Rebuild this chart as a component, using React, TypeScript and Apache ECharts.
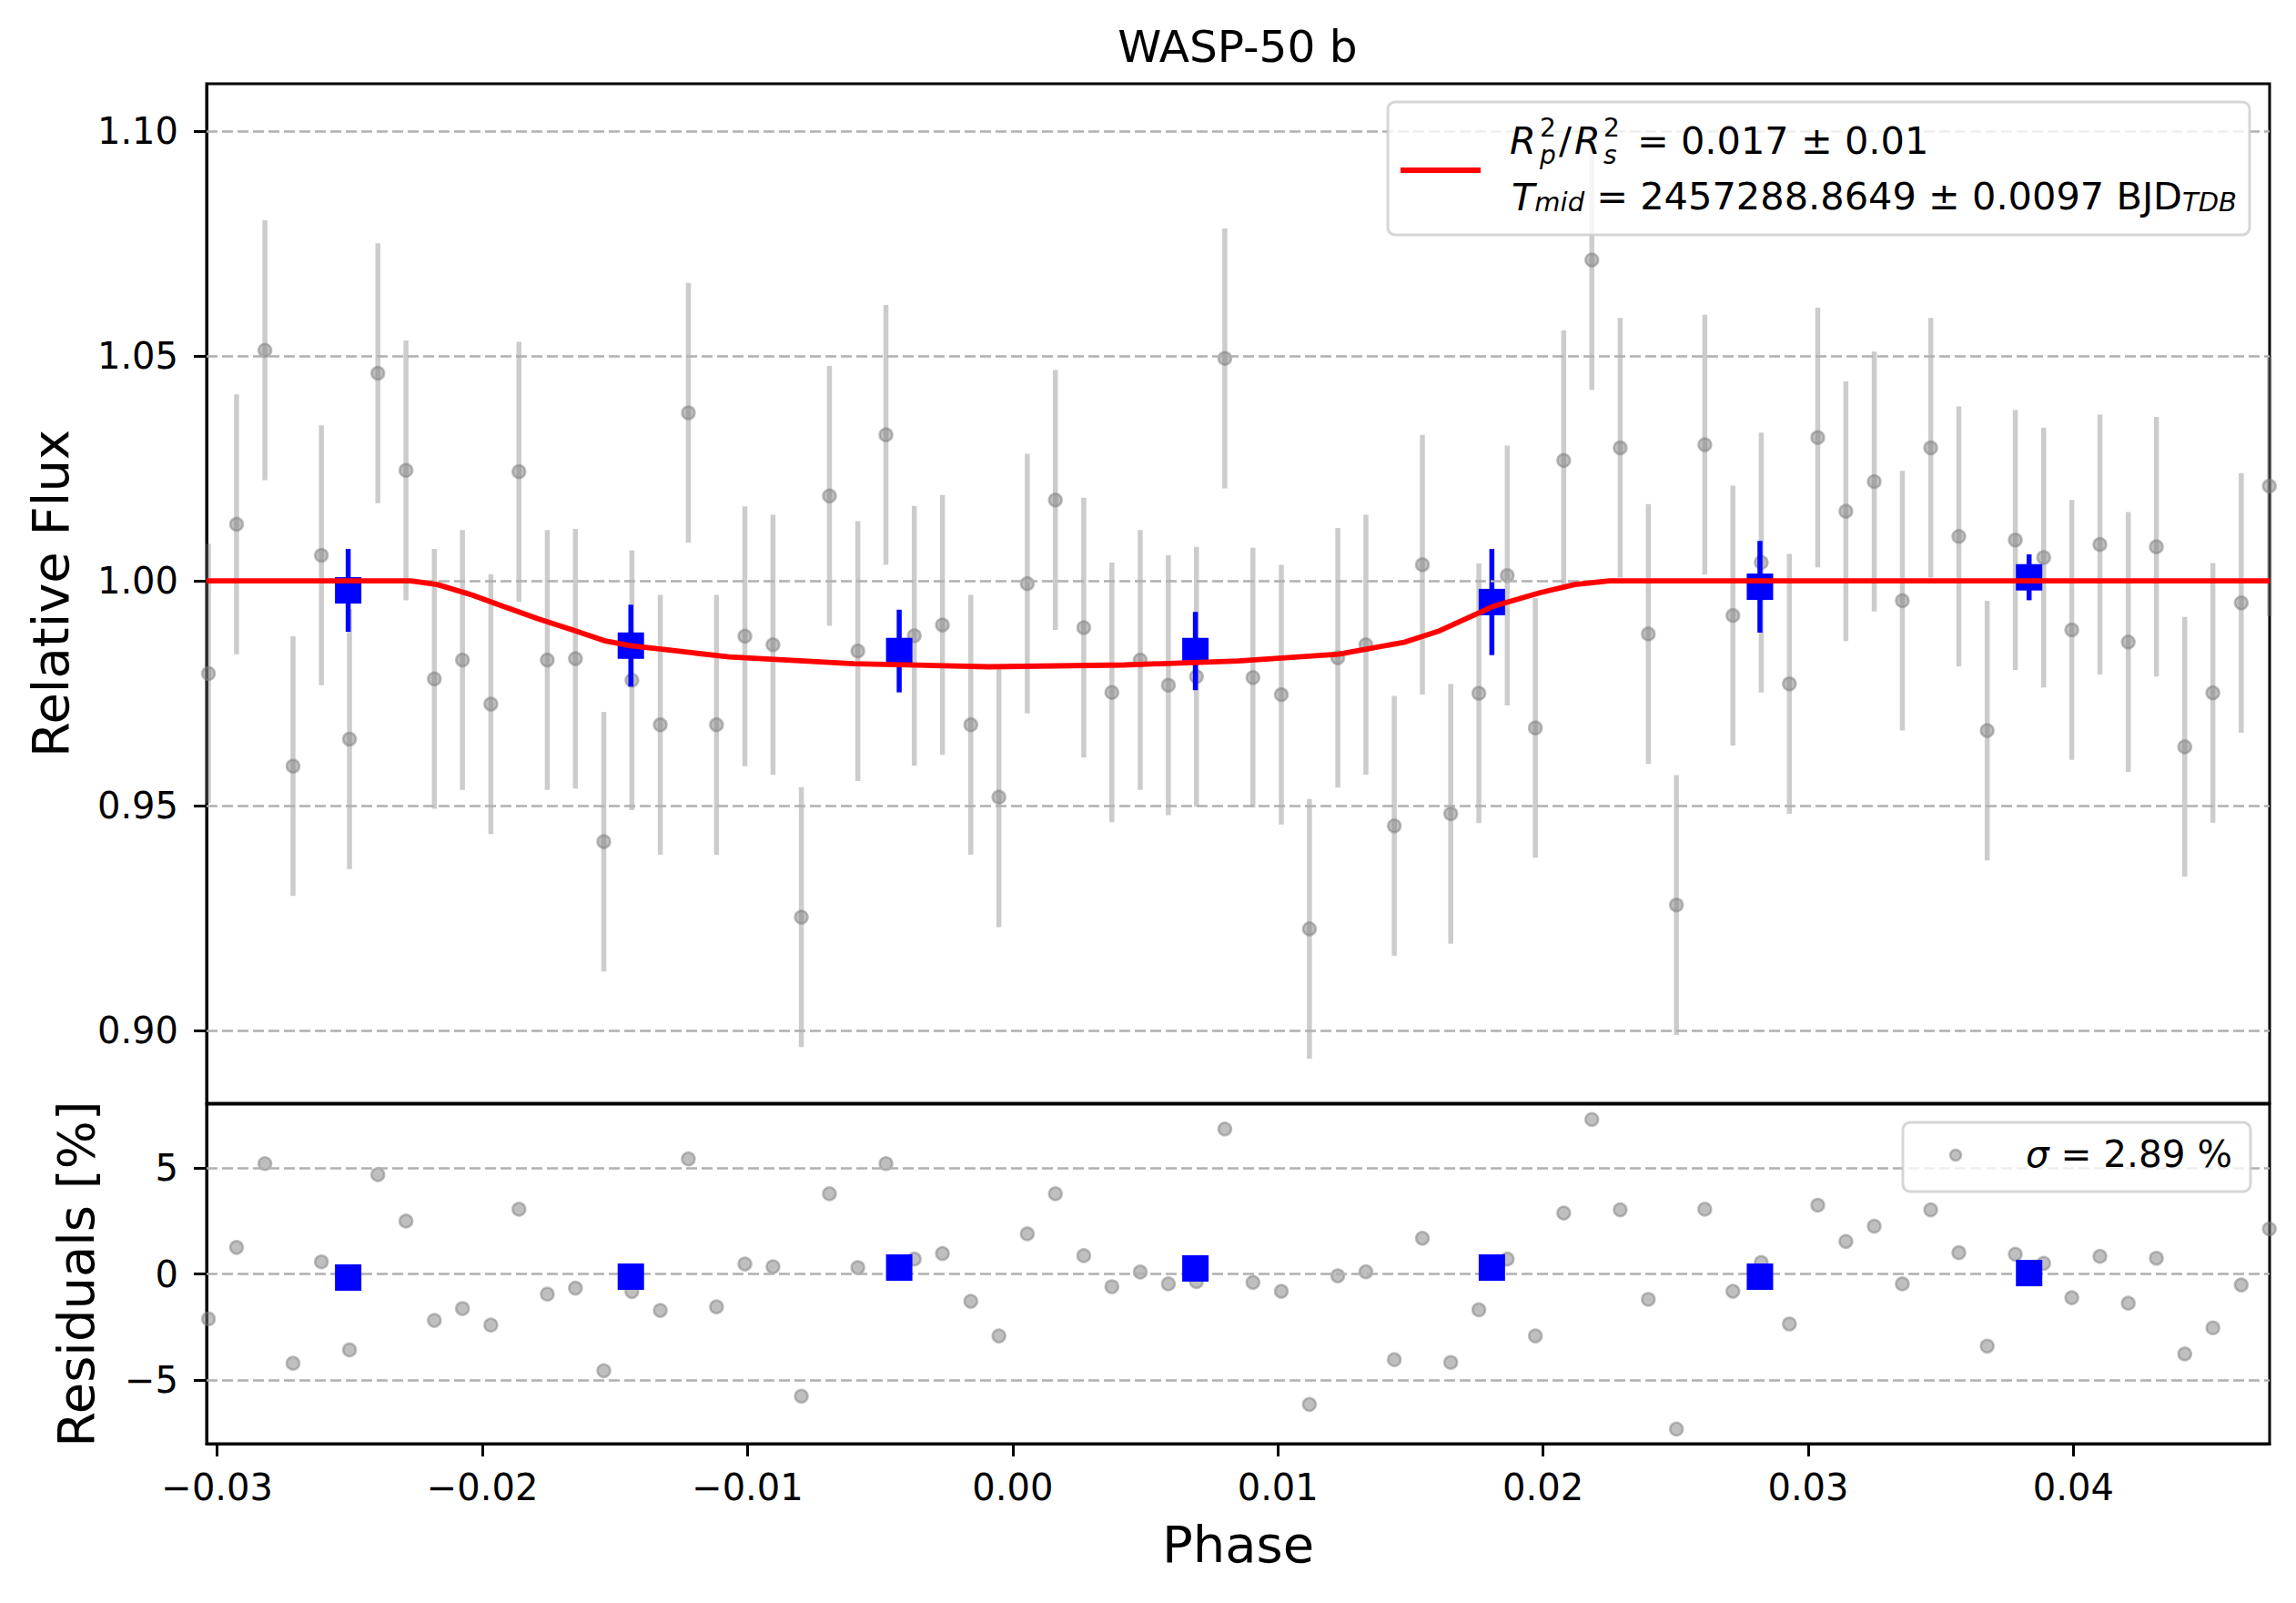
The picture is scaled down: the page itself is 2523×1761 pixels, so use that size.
import { useEffect, useRef } from "react";
import * as echarts from "echarts";

const FONT = "DejaVu Sans";

// unbinned light curve (phase, relative flux, residual in %)
const PHASE = [
  -0.03033, -0.02927, -0.0282, -0.02714, -0.02607, -0.02501, -0.02394, -0.02288,
  -0.02181, -0.02075, -0.01968, -0.01862, -0.01755, -0.01649, -0.01542, -0.01436,
  -0.01329, -0.01223, -0.01117, -0.0101, -0.00904, -0.00797, -0.00691, -0.00584,
  -0.00478, -0.00371, -0.00265, -0.00158, -0.00052, 0.00055, 0.00161, 0.00268,
  0.00374, 0.00481, 0.00587, 0.00693, 0.008, 0.00906, 0.01013, 0.01119,
  0.01226, 0.01332, 0.01439, 0.01545, 0.01652, 0.01758, 0.01865, 0.01971,
  0.02078, 0.02184, 0.02291, 0.02397, 0.02503, 0.0261, 0.02716, 0.02823,
  0.02929, 0.03036, 0.03142, 0.03249, 0.03355, 0.03462, 0.03568, 0.03675,
  0.03781, 0.03888, 0.03994, 0.041, 0.04207, 0.04313, 0.0442, 0.04526,
  0.04633, 0.04739,
];
const FLUX = [
  0.9794, 1.0126, 1.0513, 0.9588, 1.0057, 0.9648, 1.0462, 1.0246,
  0.9782, 0.9824, 0.9726, 1.0243, 0.9824, 0.9827, 0.942, 0.9779,
  0.968, 1.0374, 0.968, 0.9877, 0.9858, 0.9252, 1.0189, 0.9844,
  1.0325, 0.9878, 0.9902, 0.968, 0.9519, 0.9994, 1.018, 0.9896,
  0.9752, 0.9824, 0.9768, 0.9787, 1.0495, 0.9785, 0.9747, 0.9226,
  0.9829, 0.9858, 0.9455, 1.0036, 0.9482, 0.975, 1.0012, 0.9673,
  1.0268, 1.0714, 1.0296, 0.9882, 0.9279, 1.0303, 0.9923, 1.0041,
  0.9771, 1.0319, 1.0155, 1.0221, 0.9956, 1.0296, 1.0099, 0.9667,
  1.0091, 1.0052, 0.9891, 1.0081, 0.9864, 1.0076, 0.9631, 0.9751,
  0.9951, 1.0211,
];
const FLUX_ERR = 0.0289;
const RESIDUAL = [
  -2.12, 1.25, 5.2, -4.21, 0.57, -3.58, 4.68, 2.49,
  -2.19, -1.63, -2.41, 3.05, -0.95, -0.67, -4.56, -0.83,
  -1.72, 5.42, -1.55, 0.47, 0.34, -5.76, 3.78, 0.3,
  5.2, 0.7, 0.96, -1.29, -2.92, 1.89, 3.78, 0.86,
  -0.6, 0.09, -0.47, -0.36, 6.83, -0.4, -0.82, -6.15,
  -0.09, 0.1, -4.04, 1.68, -4.17, -1.69, 0.7, -2.92,
  2.87, 7.28, 3.02, -1.2, -7.31, 3.05, -0.82, 0.54,
  -2.36, 3.24, 1.53, 2.25, -0.47, 3.02, 1.0, -3.4,
  0.93, 0.5, -1.12, 0.83, -1.38, 0.74, -3.77, -2.54,
  -0.52, 2.12,
];

// binned points
const BIN_PHASE = [-0.02506, -0.0144, -0.00428, 0.00689, 0.01807, 0.02818, 0.03833];
const BIN_FLUX = [0.9979, 0.9856, 0.9844, 0.9844, 0.9953, 0.9987, 1.0008];
const BIN_ERR = [0.0092, 0.0091, 0.0092, 0.0087, 0.0118, 0.0102, 0.0051];
const BIN_RESIDUAL = [-0.17, -0.13, 0.3, 0.26, 0.3, -0.13, 0.04];

// transit model
const MODEL_PHASE = [
  -0.0304, -0.0227, -0.0217, -0.0204, -0.0192, -0.0179, -0.0166, -0.0154,
  -0.0144, -0.0134, -0.0122, -0.0107, -0.006, -0.0009, 0.0042, 0.0085,
  0.0123, 0.0148, 0.0161, 0.0181, 0.0199, 0.0212, 0.0225, 0.0474,
];
const MODEL_FLUX = [
  1.0, 1.0, 0.9992, 0.9969, 0.9943, 0.9916, 0.9891, 0.9867,
  0.9856, 0.9849, 0.9841, 0.9831, 0.9816, 0.9809, 0.9813, 0.9822,
  0.9837, 0.9864, 0.9889, 0.9943, 0.9974, 0.9992, 1.0, 1.0,
];

const PHASE_TICKS = [-0.03, -0.02, -0.01, 0, 0.01, 0.02, 0.03, 0.04];
const FLUX_TICKS = [0.9, 0.95, 1.0, 1.05, 1.1];
const RESIDUAL_TICKS = [-5, 0, 5];

const X_MIN = -0.0304;
const X_MAX = 0.0474;

const minus = (v: number, d: number) => (v < -1e-9 ? "\u2212" : "") + Math.abs(v).toFixed(d);

const GREY_BAR = "rgba(128,128,128,0.4)";
const GREY_DOT = "rgba(128,128,128,0.5)";

const errorBars = (color: string) => (params: any, api: any) => {
  const x = api.value(0);
  const y = api.value(1);
  const e = api.value(2);
  const lo = api.coord([x, y - e]);
  const hi = api.coord([x, y + e]);
  return {
    type: "line",
    shape: { x1: lo[0], y1: lo[1], x2: hi[0], y2: hi[1] },
    style: { stroke: color, lineWidth: 5.5 },
  };
};

const tickStyle = { show: true, length: 14, lineStyle: { color: "#000", width: 3 } };
const labelStyle = { fontSize: 40, color: "#000", fontFamily: FONT };
const nameStyle = { fontSize: 56, color: "#000", fontFamily: FONT };
const gridLine = {
  silent: true,
  symbol: ["none", "none"],
  label: { show: false },
  lineStyle: { color: "#b0b0b0", width: 2.5, type: [12, 5] },
};

const LEG = 41.5;
const LEG_SMALL = 28;

const txt = (text: string, x: number, y: number, size: number, italic = false) => ({
  type: "text",
  z: 101,
  x,
  y,
  style: {
    text,
    fill: "#000",
    fontFamily: FONT,
    fontSize: size,
    fontStyle: italic ? "italic" : "normal",
    align: "left",
    verticalAlign: "middle",
    textAlign: "left",
    textVerticalAlign: "middle",
  },
});

// superscript stacked over an italic subscript, as one two-line text
const stacked = (sup: string, sub: string, x: number, y: number) => ({
  type: "text",
  z: 101,
  x,
  y,
  style: {
    text: `{u|${sup}}\n{d|${sub}}`,
    fill: "#000",
    fontFamily: FONT,
    fontSize: LEG_SMALL,
    align: "left",
    verticalAlign: "middle",
    textAlign: "left",
    textVerticalAlign: "middle",
    rich: {
      u: { fontFamily: FONT, fontSize: LEG_SMALL, fill: "#000", lineHeight: 30 },
      d: { fontFamily: FONT, fontSize: LEG_SMALL, fontStyle: "italic", fill: "#000", lineHeight: 30 },
    },
  },
});

function App() {
  const chartRef = useRef<HTMLDivElement>(null);

  useEffect(() => {
    if (!chartRef.current) return;
    const chart = echarts.init(chartRef.current, null, { renderer: "svg" });

    const option = {
      animation: false,
      backgroundColor: "#fff",
      textStyle: { fontFamily: FONT },
      grid: [
        { left: 227, top: 92, width: 2267, height: 1120, show: true, borderColor: "#000", borderWidth: 3, backgroundColor: "transparent" },
        { left: 227, top: 1213, width: 2267, height: 373, show: true, borderColor: "#000", borderWidth: 3, backgroundColor: "transparent" },
      ],
      xAxis: [
        {
          type: "value",
          gridIndex: 0,
          min: X_MIN,
          max: X_MAX,
          axisLine: { show: false },
          axisTick: { show: false },
          axisLabel: { show: false },
          splitLine: { show: false },
        },
        {
          type: "value",
          gridIndex: 1,
          min: X_MIN,
          max: X_MAX,
          axisLine: { show: true, onZero: false, lineStyle: { color: "#000", width: 3 } },
          axisTick: { ...tickStyle, customValues: PHASE_TICKS },
          axisLabel: { ...labelStyle, margin: 28, customValues: PHASE_TICKS, formatter: (v: number) => minus(v, 2) },
          splitLine: { show: false },
          name: "Phase",
          nameLocation: "middle",
          nameGap: 82,
          nameTextStyle: nameStyle,
        },
      ],
      yAxis: [
        {
          type: "value",
          gridIndex: 0,
          min: 0.8838,
          max: 1.1106,
          axisLine: { show: true, onZero: false, lineStyle: { color: "#000", width: 3 } },
          axisTick: { ...tickStyle, customValues: FLUX_TICKS },
          axisLabel: { ...labelStyle, margin: 31, customValues: FLUX_TICKS, formatter: (v: number) => v.toFixed(2) },
          splitLine: { show: false },
          name: "Relative Flux",
          nameLocation: "middle",
          nameGap: 144,
          nameTextStyle: nameStyle,
        },
        {
          type: "value",
          gridIndex: 1,
          min: -8,
          max: 8,
          axisLine: { show: true, onZero: false, lineStyle: { color: "#000", width: 3 } },
          axisTick: { ...tickStyle, customValues: RESIDUAL_TICKS },
          axisLabel: { ...labelStyle, margin: 31, customValues: RESIDUAL_TICKS, formatter: (v: number) => minus(v, 0) },
          splitLine: { show: false },
          name: "Residuals [%]",
          nameLocation: "middle",
          nameGap: 116,
          nameTextStyle: nameStyle,
        },
      ],
      series: [
        {
          type: "line",
          xAxisIndex: 0,
          yAxisIndex: 0,
          data: [],
          z: 1,
          markLine: { ...gridLine, data: FLUX_TICKS.map((v) => ({ yAxis: v })) },
        },
        {
          type: "line",
          xAxisIndex: 1,
          yAxisIndex: 1,
          data: [],
          z: 1,
          markLine: { ...gridLine, data: RESIDUAL_TICKS.map((v) => ({ yAxis: v })) },
        },
        {
          type: "custom",
          xAxisIndex: 0,
          yAxisIndex: 0,
          z: 2,
          encode: { x: 0, y: 1 },
          data: PHASE.map((p, i) => [p, FLUX[i], FLUX_ERR]),
          renderItem: errorBars(GREY_BAR),
        },
        {
          type: "scatter",
          xAxisIndex: 0,
          yAxisIndex: 0,
          z: 3,
          symbol: "circle",
          symbolSize: 14,
          itemStyle: { color: GREY_DOT, borderColor: GREY_DOT, borderWidth: 2.5, opacity: 1 },
          data: PHASE.map((p, i) => [p, FLUX[i]]),
        },
        {
          type: "custom",
          xAxisIndex: 0,
          yAxisIndex: 0,
          z: 4,
          encode: { x: 0, y: 1 },
          data: BIN_PHASE.map((p, i) => [p, BIN_FLUX[i], BIN_ERR[i]]),
          renderItem: errorBars("#0000ff"),
        },
        {
          type: "scatter",
          xAxisIndex: 0,
          yAxisIndex: 0,
          z: 5,
          symbol: "rect",
          symbolSize: 29,
          itemStyle: { color: "#0000ff", opacity: 1 },
          data: BIN_PHASE.map((p, i) => [p, BIN_FLUX[i]]),
        },
        {
          type: "line",
          xAxisIndex: 0,
          yAxisIndex: 0,
          z: 6,
          showSymbol: false,
          smooth: false,
          lineStyle: { color: "#ff0000", width: 5.8 },
          data: MODEL_PHASE.map((p, i) => [p, MODEL_FLUX[i]]),
        },
        {
          type: "scatter",
          xAxisIndex: 1,
          yAxisIndex: 1,
          z: 3,
          symbol: "circle",
          symbolSize: 14,
          itemStyle: { color: GREY_DOT, borderColor: GREY_DOT, borderWidth: 2.5, opacity: 1 },
          data: PHASE.map((p, i) => [p, RESIDUAL[i]]),
        },
        {
          type: "scatter",
          xAxisIndex: 1,
          yAxisIndex: 1,
          z: 5,
          symbol: "rect",
          symbolSize: 29,
          itemStyle: { color: "#0000ff", opacity: 1 },
          data: BIN_PHASE.map((p, i) => [p, BIN_RESIDUAL[i]]),
        },
      ],
      graphic: [
        {
          type: "text",
          z: 101,
          x: 1360,
          y: 51,
          style: {
            text: "WASP-50 b",
            fill: "#000",
            fontFamily: FONT,
            fontSize: 48.6,
            align: "center",
            verticalAlign: "middle",
            textAlign: "center",
            textVerticalAlign: "middle",
          },
        },
        // fit legend
        {
          type: "rect",
          z: 100,
          shape: { x: 1525, y: 112, width: 947, height: 146, r: 8 },
          style: { fill: "rgba(255,255,255,0.8)", stroke: "rgba(204,204,204,0.8)", lineWidth: 3 },
        },
        {
          type: "line",
          z: 101,
          shape: { x1: 1539, y1: 187, x2: 1627, y2: 187 },
          style: { stroke: "#ff0000", lineWidth: 5.8 },
        },
        txt("R", 1659, 154.5, LEG, true),
        stacked("2", "p", 1692, 155),
        txt("/", 1713, 154.5, LEG),
        txt("R", 1730, 154.5, LEG, true),
        stacked("2", "s", 1762, 155),
        txt("= 0.017 \u00b1 0.01", 1799, 154.5, LEG),
        {
          type: "text",
          z: 101,
          x: 1661,
          y: 215.5,
          style: {
            text: "{i|T}{s|mid}{n| = 2457288.8649 \u00b1 0.0097 BJD}{s|TDB}",
            fill: "#000",
            fontFamily: FONT,
            fontSize: LEG,
            align: "left",
            verticalAlign: "middle",
            textAlign: "left",
            textVerticalAlign: "middle",
            rich: {
              i: { fontFamily: FONT, fontSize: LEG, fontStyle: "italic", fill: "#000", verticalAlign: "bottom" },
              n: { fontFamily: FONT, fontSize: LEG, fill: "#000", verticalAlign: "bottom" },
              s: { fontFamily: FONT, fontSize: 29, fontStyle: "italic", fill: "#000", verticalAlign: "bottom" },
            },
          },
        },
        // residual legend
        {
          type: "rect",
          z: 100,
          shape: { x: 2091, y: 1233, width: 382, height: 76, r: 8 },
          style: { fill: "rgba(255,255,255,0.8)", stroke: "rgba(204,204,204,0.8)", lineWidth: 3 },
        },
        {
          type: "circle",
          z: 101,
          shape: { cx: 2149, cy: 1269, r: 6 },
          style: { fill: GREY_DOT, stroke: GREY_DOT, lineWidth: 2.5 },
        },
        {
          type: "text",
          z: 101,
          x: 2226,
          y: 1268,
          style: {
            text: "{i|\u03c3}{n| = 2.89 %}",
            fill: "#000",
            fontFamily: FONT,
            fontSize: 40.5,
            align: "left",
            verticalAlign: "middle",
            textAlign: "left",
            textVerticalAlign: "middle",
            rich: {
              i: { fontFamily: FONT, fontSize: 40.5, fontStyle: "italic", fill: "#000" },
              n: { fontFamily: FONT, fontSize: 40.5, fill: "#000" },
            },
          },
        },
      ],
    };

    chart.setOption(option as any);
    return () => chart.dispose();
  }, []);

  return (
    <div
      ref={chartRef}
      style={{ position: "fixed", left: 0, top: 0, width: 2523, height: 1761, background: "#fff" }}
    />
  );
}

export default App;
